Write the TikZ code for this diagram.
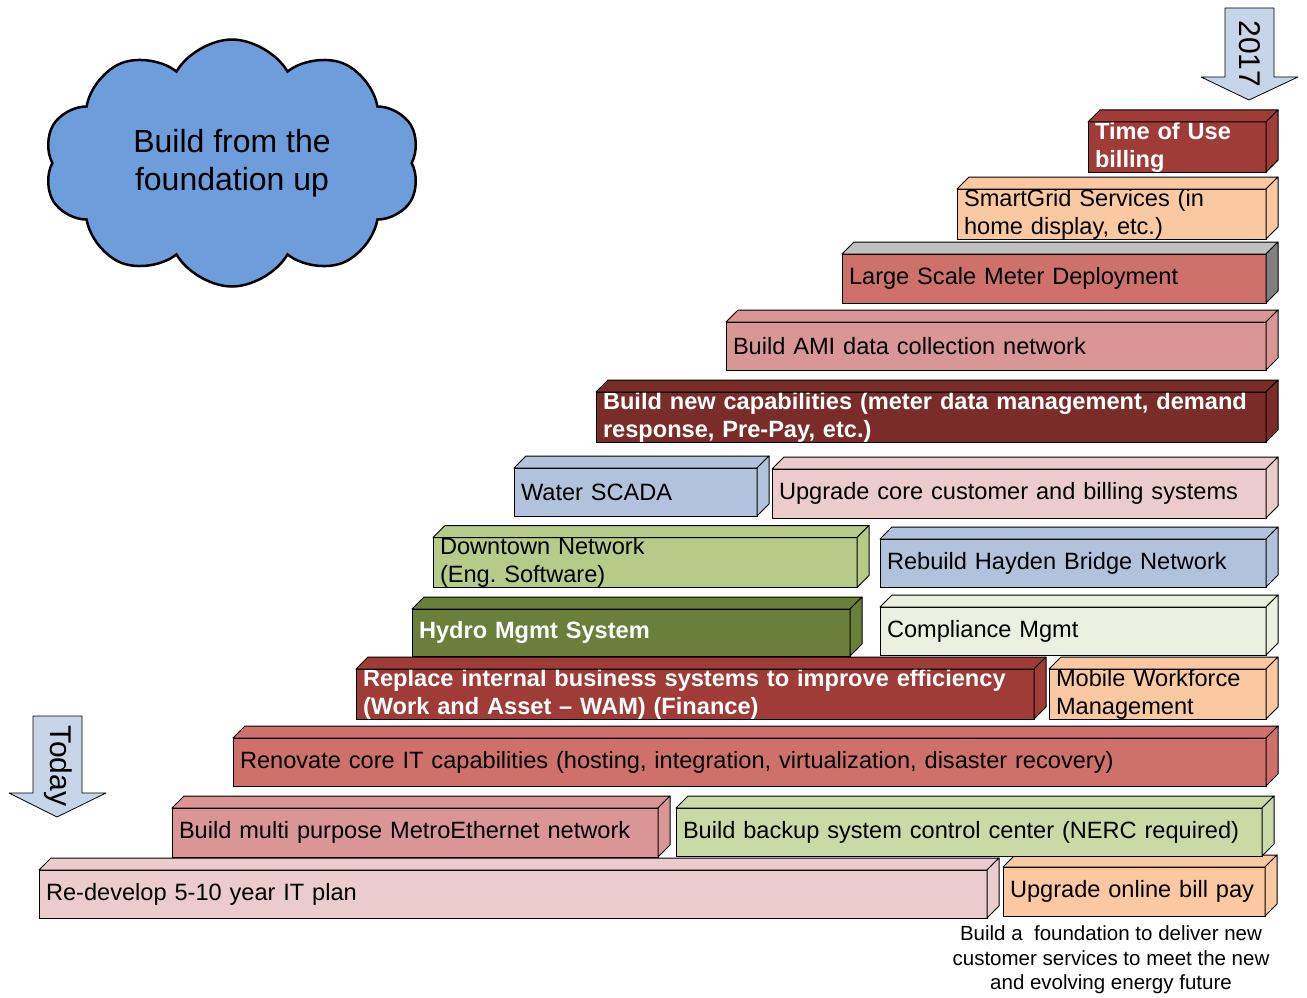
\documentclass[tikz,border=0pt]{standalone}
\usepackage{fontspec}
\setmainfont{Liberation Sans}
\usetikzlibrary{shapes.symbols}
\definecolor{rust}{HTML}{A03C37}
\definecolor{maroon}{HTML}{7A2D28}
\definecolor{brick}{HTML}{CD716A}
\definecolor{rose}{HTML}{D99694}
\definecolor{blush}{HTML}{EBCBCB}
\definecolor{peach}{HTML}{FAC9A2}
\definecolor{mossy}{HTML}{6A7F3A}
\definecolor{sage}{HTML}{B6CB87}
\definecolor{mint}{HTML}{CADAA7}
\definecolor{pale}{HTML}{EBF1DE}
\definecolor{steel}{HTML}{B1C3DC}
\definecolor{sky}{HTML}{C6D5E7}
\definecolor{cloudblue}{HTML}{6E9DDB}
\definecolor{silver}{HTML}{C0C0C0}
\definecolor{ash}{HTML}{808080}
\newcommand{\lite}{\color{white}\bfseries}
% name, x1, y1, x2, y2, front, top, side, text
\newcommand{\slab}[9]{%
  \pgfmathsetmacro\slabw{#4-#2}\pgfmathsetmacro\slabtw{#4-#2-14}%
  \node[slab,fill=#6,minimum width=\slabw pt,minimum height={(#5-#3)*1pt},text width=\slabtw pt]
    (#1) at ({(#2+#4)/2},{(#3+#5)/2}) {#9};
  \draw[slab line,fill=#7] (#1.north west) -- ++(12pt,12pt) -- ([shift={(12pt,12pt)}]#1.north east) -- (#1.north east) -- cycle;
  \draw[slab line,fill=#8] (#1.north east) -- ++(12pt,12pt) -- ([shift={(12pt,12pt)}]#1.south east) -- (#1.south east) -- cycle;
}

\begin{document}
\frenchspacing
\begin{tikzpicture}[x=1pt,y=-1pt,line width=1pt,
  slab/.style={draw,outer sep=0pt,inner xsep=7pt,inner ysep=0pt,align=left,
    font=\fontsize{23.6}{28}\selectfont},
  slab line/.style={draw,line join=round},
  marker/.style={draw,fill=sky,line width=0.8pt,line join=round},
  marker text/.style={rotate=-90,font=\fontsize{30}{34}\selectfont}]
\useasboundingbox (0,0) rectangle (1307,998);

\node[cloud,cloud puffs=10,cloud puff arc=120,aspect=1.5,draw,line width=2.5pt,fill=cloudblue,
  minimum width=376pt,minimum height=247pt,align=center,font=\fontsize{32}{38}\selectfont]
  (motto) at (232,163) {Build from the\\foundation up};

\draw[marker] (1225,8) -- (1274,8) -- (1274,77) -- (1298,77) -- (1249,100) -- (1201,77) -- (1225,77) -- cycle;
\node[marker text] (end) at (1250,54) {2017};
\draw[marker] (33,716) -- (82,716) -- (82,793) -- (106,793) -- (57,817) -- (9,793) -- (33,793) -- cycle;
\node[marker text] (start) at (58,766) {Today};

\slab{plan}{39}{870}{987}{918}{blush}{blush}{blush}{Re-develop 5-10 year IT plan}
\slab{billpay}{1003}{867}{1265}{916}{peach}{peach}{peach}{Upgrade online bill pay}
\slab{metro}{172}{808}{658}{857}{rose}{rose}{rose}{Build multi purpose MetroEthernet network}
\slab{backup}{676}{808}{1262}{856}{mint}{mint}{mint}{Build backup system control center (NERC required)}
\slab{coreit}{233}{738}{1266}{786}{brick}{brick}{brick}{Renovate core IT capabilities (hosting, integration, virtualization, disaster recovery)}
\slab{wam}{356}{670}{1034}{718}{rust}{rust}{rust}{\lite Replace internal business systems to improve efficiency\\(Work and Asset -- WAM) (Finance)}
\slab{mobile}{1049}{670}{1266}{718}{peach}{peach}{peach}{Mobile Workforce\\Management}
\slab{hydro}{412}{609}{850}{656}{mossy}{mossy}{mossy}{\lite Hydro Mgmt System}
\slab{comply}{880}{607}{1266}{655}{pale}{pale}{pale}{Compliance Mgmt}
\slab{downtown}{433}{538}{857}{587}{sage}{sage}{sage}{Downtown Network\\(Eng. Software)}
\slab{hayden}{880}{539}{1266}{587}{steel}{steel}{steel}{Rebuild Hayden Bridge Network}
\slab{scada}{514}{468}{757}{516}{steel}{steel}{steel}{Water SCADA}
\slab{billing}{772}{469}{1266}{518}{blush}{blush}{blush}{Upgrade core customer and billing systems}
\slab{newcap}{596}{393}{1266}{441}{maroon}{maroon}{maroon}{\lite Build new capabilities (meter data management, demand\\response, Pre-Pay, etc.)}
\slab{ami}{726}{322}{1266}{370}{rose}{rose}{rose}{Build AMI data collection network}
\slab{meters}{842}{254}{1266}{303}{brick}{silver}{ash}{Large Scale Meter Deployment}
\slab{smart}{957}{189}{1266}{239}{peach}{peach}{peach}{SmartGrid Services (in\\home display, etc.)}
\slab{tou}{1088}{123}{1266}{171}{rust}{rust}{rust}{\lite Time of Use\\billing}

\node[align=center,font=\fontsize{20.5}{24.5}\selectfont] (goal) at (1111,960)
  {Build a~ foundation to deliver new\\customer services to meet the new\\and evolving energy future};
\end{tikzpicture}
\end{document}
